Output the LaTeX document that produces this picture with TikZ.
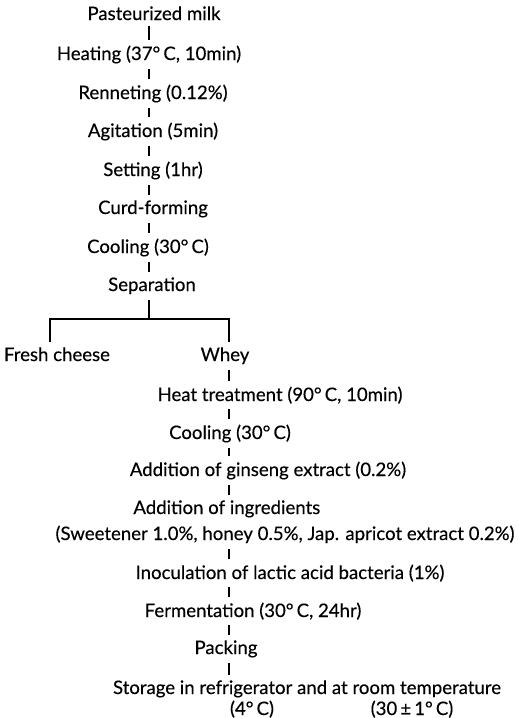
\documentclass[tikz,border=0pt]{standalone}
\usepackage{fontspec}
\setmainfont{Lato}[UprightFeatures={FakeBold=0.3}]
\usetikzlibrary{calc}

\begin{document}
\begin{tikzpicture}[x=0.5pt,y=-0.5pt]
  %--------------------------------------------
  % Área total da figura
  %--------------------------------------------
  \useasboundingbox (0,0) rectangle (519,718);

  %--------------------------------------------
  % Estilos de etapa e de ligação
  %--------------------------------------------
  \def\lnw{0.6pt}   % espessura das linhas
  \tikzstyle{etapa} = [
    anchor=base, inner sep=1.5pt,               % texto apoiado na linha de base
    font=\fontsize{9.3}{11}\selectfont
  ]
  \tikzstyle{liga} = [line width=\lnw, shorten <=1pt, shorten >=1pt]

  %--------------------------------------------
  % Eixos verticais e ponto de divisão
  %--------------------------------------------
  \coordinate (tronco)  at (149,0);
  \coordinate (ramo)    at (229,0);
  \coordinate (esq)     at (50,0);
  \coordinate (divisao) at (149,319);

  %--------------------------------------------
  % Etapas do processo
  %--------------------------------------------
  \foreach \nome/\x/\y/\txt in {
    milk/154/20/{Pasteurized milk},
    heat/149/60/{Heating (37°\,C, 10min)},
    renn/153/99/{Renneting (0.12\%)},
    agit/153/137/{Agitation (5min)},
    sett/153/176/{Setting (1hr)},
    curd/153/214/{Curd-forming},
    cool/148/253/{Cooling (30°\,C)},
    sepa/152/291/{Separation},
    fresh/57/361/{Fresh cheese},
    whey/225/361/{Whey},
    htreat/280/401/{Heat treatment (90°\,C, 10min)},
    cool2/230/439/{Cooling (30°\,C)},
    gins/268/476/{Addition of ginseng extract (0.2\%)},
    sweet/285/540/{(Sweetener 1.0\%, honey 0.5\%, Jap. apricot extract 0.2\%)},
    inoc/290/579/{Inoculation of lactic acid bacteria (1\%)},
    ferm/253/617/{Fermentation (30°\,C, 24hr)},
    pack/226/654/{Packing},
    stor/307/694/{Storage in refrigerator and at room temperature},
    tquatro/252/715/{(4°\,C)},
    ttrinta/412/715/{(30\,±\,1°\,C)}}
  {
    \node[etapa] (\nome) at (\x,\y) {\txt};
  }
  % primeira linha alinhada à esquerda
  \node[etapa, anchor=base west] (ingr) at (130,514) {Addition of ingredients};

  %--------------------------------------------
  % Ligações verticais
  %--------------------------------------------
  \foreach \a/\b/\eixo in {milk/heat/tronco, heat/renn/tronco, renn/agit/tronco,
    agit/sett/tronco, sett/curd/tronco, curd/cool/tronco, cool/sepa/tronco,
    whey/htreat/ramo, htreat/cool2/ramo, cool2/gins/ramo, gins/ingr/ramo,
    sweet/inoc/ramo, inoc/ferm/ramo, ferm/pack/ramo, pack/stor/ramo}
  {
    \draw[liga] (\a.south -| \eixo) -- (\b.north -| \eixo);
  }

  %--------------------------------------------
  % Divisão em queijo fresco e soro
  %--------------------------------------------
  \draw[liga, shorten >=0pt] (sepa.south -| tronco) -- (divisao);
  \draw[liga] (fresh.north -| esq) |- (divisao) -| (whey.north -| ramo);
\end{tikzpicture}
\end{document}
